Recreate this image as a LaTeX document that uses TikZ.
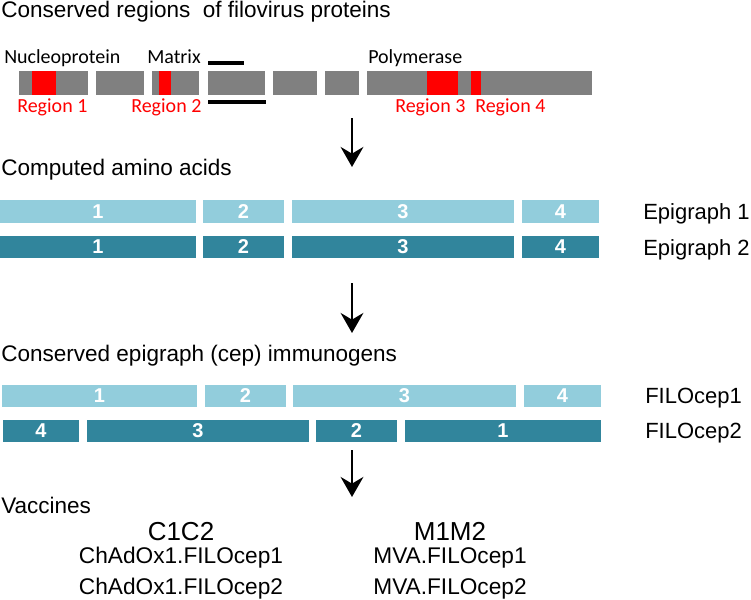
\documentclass[tikz,border=0pt]{standalone}
\usepackage{fontspec}
\setmainfont{Liberation Sans}
\newfontfamily\calibri{Carlito}
\usepackage{xcolor}
\usepackage{tikz}
\usetikzlibrary{arrows.meta}

\definecolor{epilight}{RGB}{146,205,220}
\definecolor{epidark}{RGB}{49,133,156}
\definecolor{genegray}{RGB}{128,128,128}

\begin{document}
\begin{tikzpicture}[x=0.75pt, y=-0.75pt]
\tikzstyle{block}=[anchor=north west, inner sep=0pt, outer sep=0pt]
\tikzstyle{gene}=[block, fill=genegray, minimum height=24*0.75pt]
\tikzstyle{region}=[block, fill=red, minimum height=24*0.75pt]
\tikzstyle{light}=[block, fill=epilight, minimum height=23*0.75pt, text=white, font=\bfseries\fontsize{15}{15}\selectfont]
\tikzstyle{dark}=[light, fill=epidark, minimum height=22*0.75pt]
\tikzstyle{heading}=[anchor=base west, inner sep=0pt, font=\fontsize{16.9}{19}\selectfont]
\tikzstyle{protein}=[anchor=base west, inner sep=0pt, font=\calibri\fontsize{15}{17}\selectfont]
\tikzstyle{regionlabel}=[protein, text=red]
\tikzstyle{rowlabel}=[anchor=base west, inner sep=0pt, font=\fontsize{16.5}{19}\selectfont]
\tikzstyle{marker}=[draw=black, line width=2.6pt]
\tikzstyle{flow}=[draw=black, line width=2.2pt, -{Stealth[length=15pt, width=17pt, inset=5pt]}]
\tikzstyle{vaccine}=[anchor=base, inner sep=0pt, font=\fontsize{19.5}{22}\selectfont]
\tikzstyle{construct}=[anchor=base, inner sep=0pt, font=\fontsize{17}{19}\selectfont]

\useasboundingbox (0,0) rectangle (751,600);

% Protein map
\node[heading] (title) at (1,17.5) {Conserved regions\ \ of filovirus proteins};
\node[protein] (np-label) at (4,63) {Nucleoprotein};
\node[protein] (matrix-label) at (147,63) {Matrix};
\node[protein] (pol-label) at (368,63) {Polymerase};

\node[gene, minimum width=69*0.75pt] (gene-1) at (19,71) {};
\node[gene, minimum width=48*0.75pt] (gene-2) at (96,71) {};
\node[gene, minimum width=47*0.75pt] (gene-3) at (152,71) {};
\node[gene, minimum width=57*0.75pt] (gene-4) at (208,71) {};
\node[gene, minimum width=44*0.75pt] (gene-5) at (273,71) {};
\node[gene, minimum width=34*0.75pt] (gene-6) at (325,71) {};
\node[gene, minimum width=225*0.75pt] (gene-7) at (367,71) {};

\node[region, minimum width=24*0.75pt] (region-1) at (32,71) {};
\node[region, minimum width=12*0.75pt] (region-2) at (159,71) {};
\node[region, minimum width=31*0.75pt] (region-3) at (427,71) {};
\node[region, minimum width=10*0.75pt] (region-4) at (471,71) {};

\node[regionlabel] (region-1-label) at (17,112) {Region 1};
\node[regionlabel] (region-2-label) at (131,112) {Region 2};
\node[regionlabel] (region-3-label) at (395,112) {Region 3};
\node[regionlabel] (region-4-label) at (475,112) {Region 4};

\path[marker] (gene-4.north west) ++(0,-8) -- ++(36,0);
\path[marker] (gene-4.south west) ++(0,7) -- ++(58,0);

% Epigraphs
\coordinate (flow-1-start) at (352,118);
\coordinate (flow-1-end) at (352,167);
\path[flow] (flow-1-start) -- (flow-1-end);
\node[heading] (computed) at (1,175) {Computed amino acids};

\node[light, minimum width=196*0.75pt] (epi1-seg1) at (0,200) {1};
\node[light, minimum width=81*0.75pt] (epi1-seg2) at (203,200) {2};
\node[light, minimum width=222*0.75pt] (epi1-seg3) at (292,200) {3};
\node[light, minimum width=77*0.75pt] (epi1-seg4) at (522,200) {4};
\node[rowlabel] (epi1-label) at (643,219) {Epigraph 1};

\node[dark, minimum width=196*0.75pt] (epi2-seg1) at (0,236) {1};
\node[dark, minimum width=81*0.75pt] (epi2-seg2) at (203,236) {2};
\node[dark, minimum width=222*0.75pt] (epi2-seg3) at (292,236) {3};
\node[dark, minimum width=77*0.75pt] (epi2-seg4) at (522,236) {4};
\node[rowlabel] (epi2-label) at (643,255) {Epigraph 2};

% Immunogens
\coordinate (flow-2-start) at (352,283);
\coordinate (flow-2-end) at (352,333);
\path[flow] (flow-2-start) -- (flow-2-end);
\node[heading] (cep) at (1,361) {Conserved epigraph (cep) immunogens};

\node[light, minimum width=195*0.75pt, minimum height=22*0.75pt] (cep1-seg1) at (2,385) {1};
\node[light, minimum width=81*0.75pt, minimum height=22*0.75pt] (cep1-seg2) at (205,385) {2};
\node[light, minimum width=223*0.75pt, minimum height=22*0.75pt] (cep1-seg3) at (293,385) {3};
\node[light, minimum width=77*0.75pt, minimum height=22*0.75pt] (cep1-seg4) at (524,385) {4};
\node[rowlabel] (cep1-label) at (645,403) {FILOcep1};

\node[dark, minimum width=76*0.75pt] (cep2-seg4) at (3,420) {4};
\node[dark, minimum width=222*0.75pt] (cep2-seg3) at (87,420) {3};
\node[dark, minimum width=81*0.75pt] (cep2-seg2) at (316,420) {2};
\node[dark, minimum width=196*0.75pt] (cep2-seg1) at (405,420) {1};
\node[rowlabel] (cep2-label) at (645,438) {FILOcep2};

% Vaccines
\coordinate (flow-3-start) at (352,450);
\coordinate (flow-3-end) at (352,497);
\path[flow] (flow-3-start) -- (flow-3-end);
\node[heading] (vaccines) at (1,513) {Vaccines};

\node[vaccine] (c1c2) at (181,540) {C1C2};
\node[construct] (chad-1) at (181,563) {ChAdOx1.FILOcep1};
\node[construct] (chad-2) at (181,594) {ChAdOx1.FILOcep2};

\node[vaccine] (m1m2) at (450,540) {M1M2};
\node[construct] (mva-1) at (450,563) {MVA.FILOcep1};
\node[construct] (mva-2) at (450,594) {MVA.FILOcep2};
\end{tikzpicture}
\end{document}
